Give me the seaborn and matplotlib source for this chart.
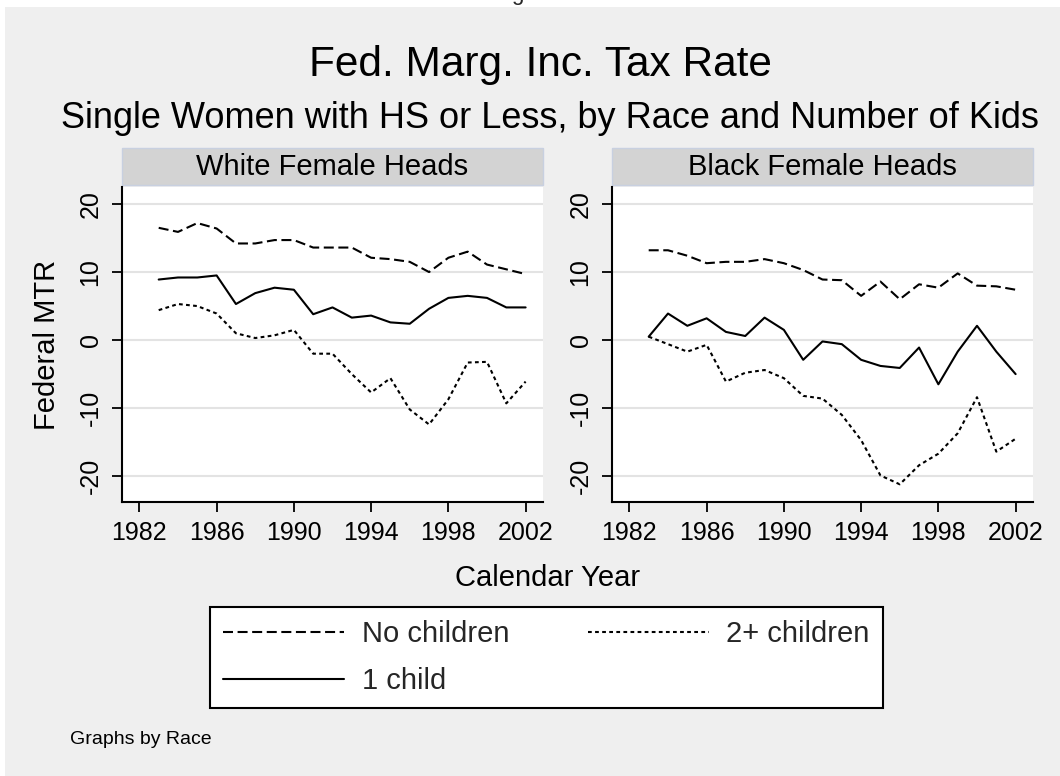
import pandas as pd
import matplotlib
matplotlib.use('Agg')
import matplotlib.pyplot as plt
import seaborn as sns
from matplotlib.patches import Rectangle

# Values (federal marginal tax rate, %)
years = list(range(1983, 2003))
races = ['White Female Heads', 'Black Female Heads']
kids_labels = ['No children', '1 child', '2+ children']

white_no_kids = [16.5, 15.9, 17.2, 16.4, 14.2, 14.2, 14.7, 14.7, 13.6, 13.6,
                 13.6, 12.1, 11.9, 11.5, 10.0, 12.1, 13.0, 11.1, 10.4, 9.7]
white_one_kid = [8.9, 9.2, 9.2, 9.5, 5.3, 6.9, 7.7, 7.4, 3.8, 4.8,
                 3.3, 3.6, 2.6, 2.4, 4.6, 6.2, 6.5, 6.2, 4.8, 4.8]
white_two_plus = [4.4, 5.3, 5.0, 3.9, 1.0, 0.3, 0.7, 1.5, -2.0, -2.0,
                  -5.0, -7.7, -5.6, -10.2, -12.4, -8.7, -3.3, -3.2, -9.3, -6.1]

black_no_kids = [13.2, 13.2, 12.4, 11.3, 11.5, 11.5, 11.9, 11.3, 10.3, 8.9,
                 8.8, 6.5, 8.6, 6.0, 8.2, 7.7, 9.8, 8.0, 7.9, 7.4]
black_one_kid = [0.5, 3.9, 2.1, 3.2, 1.2, 0.6, 3.3, 1.5, -2.9, -0.2,
                 -0.6, -2.9, -3.8, -4.1, -1.1, -6.5, -1.7, 2.1, -1.7, -5.0]
black_two_plus = [0.5, -0.6, -1.7, -0.7, -6.1, -4.8, -4.4, -5.6, -8.2, -8.6,
                  -11.0, -14.7, -19.9, -21.2, -18.4, -16.7, -13.7, -8.4, -16.4, -14.5]

y_ticks = [-20, -10, 0, 10, 20]
x_ticks = [1982, 1986, 1990, 1994, 1998, 2002]

# Long table for seaborn
series = {
    ('White Female Heads', 'No children'): white_no_kids,
    ('White Female Heads', '1 child'): white_one_kid,
    ('White Female Heads', '2+ children'): white_two_plus,
    ('Black Female Heads', 'No children'): black_no_kids,
    ('Black Female Heads', '1 child'): black_one_kid,
    ('Black Female Heads', '2+ children'): black_two_plus,
}
rows = []
for (race, kids), vals in series.items():
    for yr, v in zip(years, vals):
        rows.append({'year': yr, 'mtr': v, 'race': race, 'kids': kids})
df = pd.DataFrame(rows)

sns.set_theme(style='white')
plt.rcParams['font.family'] = ['Liberation Sans', 'DejaVu Sans']
plt.rcParams['axes.unicode_minus'] = False

W, H = 1060, 776
fig = plt.figure(figsize=(W / 100, H / 100), dpi=100, facecolor='white')
# grey graph region (thin white margin at top and left as in the original)
fig.add_artist(Rectangle((5 / W, 0), 1 - 5 / W, 1 - 7 / H, transform=fig.transFigure,
                         facecolor='#efefef', edgecolor='none', zorder=-10))
# tail of a letter from text above the crop, as seen in the original
fig.text(517 / W, 1.0, 'g', ha='center', va='baseline', fontsize=16)


def px_axes(x0, x1, y0, y1):
    return fig.add_axes([x0 / W, 1 - y1 / H, (x1 - x0) / W, (y1 - y0) / H])


axes = [px_axes(122, 543, 187, 502), px_axes(612, 1033, 187, 502)]
dash_map = {'No children': (4.8, 2.2), '1 child': '', '2+ children': (1.8, 1.6)}

for ax, race in zip(axes, races):
    sub = df[df['race'] == race]
    sns.lineplot(data=sub, x='year', y='mtr', style='kids', style_order=kids_labels,
                 dashes=dash_map, color='black', linewidth=1.5, ax=ax,
                 legend=(race == races[0]))
    ax.set_facecolor('white')
    ax.set_xlim(1981.1, 2002.9)
    ax.set_ylim(-23.8, 22.5)
    ax.set_xticks(x_ticks)
    ax.set_yticks(y_ticks)
    ax.grid(axis='y', color='#e3e3e3', linewidth=1.5)
    ax.grid(axis='x', visible=False)
    ax.set_axisbelow(True)
    for side in ['top', 'right']:
        ax.spines[side].set_visible(False)
    for side in ['left', 'bottom']:
        ax.spines[side].set_color('black')
        ax.spines[side].set_linewidth(1.5)
    ax.tick_params(axis='both', bottom=True, left=True, direction='out', length=7,
                   width=1.3, color='black', labelsize=18, pad=7, labelcolor='black')
    plt.setp(ax.get_yticklabels(), rotation=90, va='center')
    ax.set_xlabel('')
    ax.set_ylabel('')
    # strip header
    ax.add_patch(Rectangle((0, 1.006), 1, 0.1175, transform=ax.transAxes,
                           facecolor='#d3d3d3', edgecolor='#c8d0e0', linewidth=1,
                           clip_on=False))
    ax.text(0.5, 1.065, race, transform=ax.transAxes, ha='center', va='center',
            fontsize=21, color='black')

handles, labels = axes[0].get_legend_handles_labels()
axes[0].get_legend().remove()
for h in handles:
    h.set_color('black')
    h.set_linewidth(1.5)

leg = fig.legend(handles, labels, ncol=2, loc='center',
                 bbox_to_anchor=(210 / W, 1 - 709 / H, 673 / W, 103 / H), mode='expand',
                 frameon=True, fancybox=False, edgecolor='black', facecolor='white',
                 framealpha=1, fontsize=21, handlelength=4.15, handletextpad=0.6,
                 borderpad=0.45, labelspacing=0.65, borderaxespad=0)
leg.get_frame().set_linewidth(1.5)

fig.text(540 / W, 1 - 65 / H, 'Fed. Marg. Inc. Tax Rate', ha='center', va='center',
         fontsize=30.5, color='black')
fig.text(550 / W, 1 - 118 / H,
         'Single Women with HS or Less, by Race and Number of Kids',
         ha='center', va='center', fontsize=26, color='black')
fig.text(47 / W, 1 - 345 / H, 'Federal MTR', rotation=90, ha='center', va='center',
         fontsize=21, color='black')
fig.text(548 / W, 1 - 578 / H, 'Calendar Year', ha='center', va='center',
         fontsize=21, color='black')
fig.text(70 / W, 1 - 740 / H, 'Graphs by Race', ha='left', va='center',
         fontsize=14, color='black')

fig.savefig('out.png', dpi=100)
